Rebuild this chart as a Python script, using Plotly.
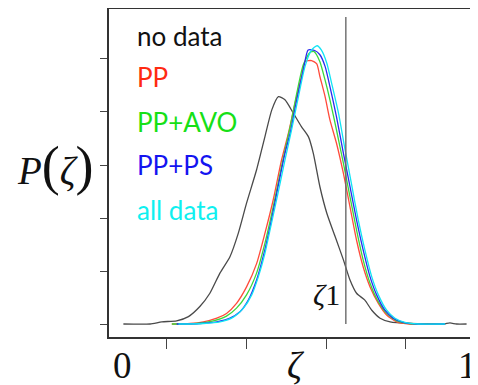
import plotly.graph_objects as go

# --- data (zeta, P(zeta)) ---
nodata_x = [0.004, 0.081, 0.115, 0.158, 0.192, 0.225, 0.254, 0.283, 0.312, 0.336, 0.360, 0.389,
            0.413, 0.433, 0.452, 0.471, 0.495, 0.519, 0.539, 0.553, 0.572, 0.592, 0.616, 0.640,
            0.659, 0.678, 0.702, 0.722, 0.746, 0.775, 0.832, 0.929, 0.948, 0.967, 0.996]
nodata_y = [0.0, 0.0, 0.04, 0.06, 0.14, 0.33, 0.58, 0.96, 1.27, 1.71, 2.28, 2.91,
            3.53, 4.04, 4.29, 4.23, 3.98, 3.72, 3.53, 3.22, 2.59, 2.09, 1.65, 1.21,
            0.83, 0.58, 0.45, 0.26, 0.11, 0.04, 0.01, 0.0, 0.02, 0.0, 0.0]

pp_x = [0.144, 0.197, 0.235, 0.274, 0.302, 0.331, 0.360, 0.389, 0.413, 0.437, 0.461, 0.481,
        0.500, 0.519, 0.529, 0.548, 0.563, 0.572, 0.587, 0.601, 0.620, 0.640, 0.659, 0.678,
        0.697, 0.717, 0.741, 0.765, 0.794, 0.832, 0.934]
pp_y = [0.0, 0.01, 0.04, 0.11, 0.20, 0.39, 0.70, 1.14, 1.71, 2.34, 3.09, 3.60,
        4.16, 4.67, 4.95, 4.97, 4.91, 4.67, 4.29, 3.85, 3.41, 2.84, 2.21, 1.58,
        1.08, 0.70, 0.39, 0.17, 0.04, 0.0, 0.0]

avo_x = [0.144, 0.216, 0.264, 0.302, 0.331, 0.360, 0.389, 0.413, 0.437, 0.461, 0.486, 0.505,
         0.524, 0.543, 0.555, 0.572, 0.587, 0.601, 0.620, 0.640, 0.659, 0.678, 0.697, 0.717,
         0.741, 0.765, 0.794, 0.832, 0.934]
avo_y = [0.0, 0.01, 0.06, 0.15, 0.30, 0.55, 0.96, 1.52, 2.21, 2.97, 3.72, 4.35,
         4.89, 5.12, 5.14, 4.95, 4.60, 4.23, 3.66, 3.03, 2.40, 1.77, 1.21, 0.77,
         0.42, 0.20, 0.06, 0.01, 0.0]

ps_x = [0.158, 0.225, 0.274, 0.312, 0.341, 0.365, 0.389, 0.408, 0.432, 0.451, 0.471, 0.486,
        0.505, 0.524, 0.538, 0.557, 0.572, 0.587, 0.601, 0.620, 0.640, 0.659, 0.678, 0.697,
        0.717, 0.736, 0.760, 0.784, 0.813, 0.852, 0.934]
ps_y = [0.0, 0.01, 0.04, 0.11, 0.23, 0.45, 0.83, 1.27, 1.96, 2.59, 3.22, 3.60,
        4.23, 4.79, 5.17, 5.16, 5.08, 4.86, 4.48, 3.91, 3.22, 2.59, 1.96, 1.40,
        0.89, 0.55, 0.26, 0.11, 0.03, 0.0, 0.0]

all_x = [0.163, 0.235, 0.283, 0.322, 0.351, 0.375, 0.394, 0.413, 0.432, 0.451, 0.471, 0.490,
         0.510, 0.529, 0.548, 0.564, 0.576, 0.592, 0.606, 0.626, 0.645, 0.664, 0.683, 0.702,
         0.722, 0.741, 0.765, 0.789, 0.818, 0.856, 0.934]
all_y = [0.0, 0.01, 0.04, 0.13, 0.30, 0.55, 0.89, 1.33, 1.90, 2.47, 3.09, 3.66,
         4.29, 4.86, 5.17, 5.25, 5.17, 4.92, 4.54, 3.97, 3.28, 2.62, 1.96, 1.40,
         0.89, 0.55, 0.26, 0.11, 0.03, 0.0, 0.0]

series_names = ["no data", "PP", "PP+AVO", "PP+PS", "all data"]
line_colors = ["#4a4a4a", "#ff4a3a", "#3ad83a", "#2a2aee", "#10e4f4"]
text_colors = ["#111111", "#ff2a12", "#16e016", "#1414f0", "#0ef0f0"]
legend_y = [5.43, 4.66, 3.81, 3.0, 2.15]

zeta1 = 0.647
zeta1_top = 5.79
x_tickvals = [0.129, 0.361, 0.590, 0.820]
y_tickvals = [0, 1, 2, 3, 4, 5]
x_labels = ["0", "ζ", "1"]
x_label_pos = [0.0, 0.503, 1.0]

xs = [nodata_x, pp_x, avo_x, ps_x, all_x]
ys = [nodata_y, pp_y, avo_y, ps_y, all_y]

# page has an 8px body margin; size the figure so the plot sits where the reference's does
W, H = 470, 377
ml, mr, mt, mb = 101, 0, 1, 48
pw, ph = W - ml - mr, H - mt - mb

fig = go.Figure()
for name, x, y, c in zip(series_names, xs, ys, line_colors):
    fig.add_trace(go.Scatter(x=x, y=y, mode="lines", name=name,
                             line=dict(color=c, width=1.3, shape="spline", smoothing=0.6),
                             showlegend=False))

fig.add_trace(go.Scatter(x=[zeta1, zeta1], y=[0, zeta1_top], mode="lines",
                         line=dict(color="#6a6a6a", width=1.4), showlegend=False))

annotations = []
for name, ly, tc in zip(series_names, legend_y, text_colors):
    annotations.append(dict(x=0.0376, y=ly, xref="x", yref="y", text=name, showarrow=False,
                            xanchor="left", yanchor="middle",
                            font=dict(family="Lato", size=26, color=tc)))

xr = [-0.0376, 1.029]
lab_y = ((H - mb) - 357) / ph
for lab, pos in zip(x_labels, x_label_pos):
    txt = "<i>ζ</i>" if lab == "ζ" else lab
    annotations.append(dict(x=pos, y=lab_y, xref="x", yref="paper", text=txt, showarrow=False,
                            xanchor="center", yanchor="middle",
                            font=dict(family="Liberation Serif", size=37, color="#111111")))
annotations.append(dict(x=0.592, y=0.55, xref="x", yref="y", text="<i>ζ</i>1", showarrow=False,
                        xanchor="center", yanchor="middle",
                        font=dict(family="Liberation Serif", size=30, color="#111111")))
annotations.append(dict(x=(47 - ml) / pw, y=((H - mb) - 158) / ph, xref="paper", yref="paper",
                        text="<i>P</i><span style='font-size:54px'>(</span><i>ζ</i>"
                             "<span style='font-size:54px'>)</span>",
                        showarrow=False, xanchor="center", yanchor="middle",
                        font=dict(family="Liberation Serif", size=39, color="#111111")))

fig.update_layout(
    width=W, height=H,
    margin=dict(l=ml, r=mr, t=mt, b=mb, pad=0),
    paper_bgcolor="white", plot_bgcolor="white",
    annotations=annotations,
    xaxis=dict(range=xr, showgrid=False, zeroline=False,
               showline=True, linecolor="#333333", linewidth=1.5, mirror=True,
               tickmode="array", tickvals=x_tickvals, ticktext=[""] * len(x_tickvals),
               ticks="outside", ticklen=10, tickwidth=1.3, tickcolor="#444444"),
    yaxis=dict(range=[-0.245, 5.943], showgrid=False, zeroline=False,
               showline=True, linecolor="#333333", linewidth=1.5, mirror=False,
               tickmode="array", tickvals=y_tickvals, ticktext=[""] * len(y_tickvals),
               ticks="outside", ticklen=7, tickwidth=1.3, tickcolor="#444444"),
)

fig.write_html("out.html")
